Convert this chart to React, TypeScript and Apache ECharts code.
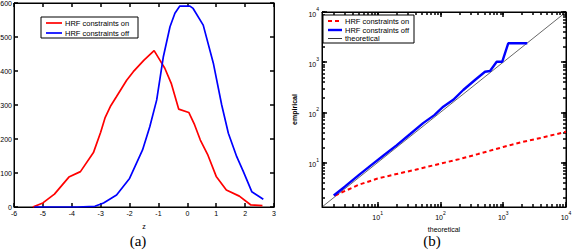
import React, { useEffect, useRef } from "react";
import * as echarts from "echarts";

// ---- Panel (a): histogram-like curves of z ----
const zTicks = [-6, -5, -4, -3, -2, -1, 0, 1, 2, 3];
const countTicks = [0, 100, 200, 300, 400, 500, 600];
const hrfOnZ = [-5.35, -5.0, -4.6, -4.1, -3.7, -3.25, -3.0, -2.85, -2.65, -2.45, -2.1, -1.87, -1.5, -1.15, -0.95, -0.78, -0.55, -0.3, 0.05, 0.25, 0.45, 0.7, 1.0, 1.35, 1.8, 2.2, 2.6];
const hrfOnCount = [0, 12, 38, 88, 104, 160, 220, 262, 298, 325, 373, 398, 432, 460, 432, 408, 362, 288, 278, 242, 197, 155, 90, 50, 32, 6, 4];
const hrfOffZ = [-5.3, -3.8, -3.2, -2.9, -2.45, -2.0, -1.55, -1.3, -1.06, -0.83, -0.6, -0.43, -0.26, 0.09, 0.2, 0.55, 0.9, 1.19, 1.42, 1.71, 1.94, 2.23, 2.63];
const hrfOffCount = [0, 0, 2, 12, 35, 84, 168, 236, 315, 442, 530, 570, 591, 591, 584, 535, 423, 300, 217, 148, 104, 45, 23];

// ---- Panel (b): quantile-quantile plot (log-log) ----
const logMajorTicks = [10, 100, 1000, 10000];
const logMinorTicks = [2, 3, 4, 5, 6, 7, 8, 9, 20, 30, 40, 50, 60, 70, 80, 90, 200, 300, 400, 500, 600, 700, 800, 900, 2000, 3000, 4000, 5000, 6000, 7000, 8000, 9000];
const qqOnTheo = [2.1, 3.2, 5, 10, 20, 40, 100, 200, 400, 1000, 2000, 4000, 10000];
const qqOnEmp = [2.2, 2.8, 3.6, 4.8, 5.9, 7.2, 9.5, 11.7, 14.8, 20.4, 25.7, 31, 41];
const qqOffTheo = [2.0, 3.0, 5.0, 8, 13, 20, 33, 53, 80, 111, 160, 231, 355, 513, 617, 787, 966, 1202, 2415];
const qqOffEmp = [2.2, 3.3, 5.6, 9, 14.5, 22, 37, 61, 88, 130, 178, 279, 442, 646, 668, 1023, 1023, 2377, 2377];
const theoLine = [1.3, 10000];

const zip = (a: number[], b: number[]) => a.map((v, i) => [v, b[i]]);

const SANS = "Liberation Sans, Arial, sans-serif";
const SERIF = "Liberation Serif, Times New Roman, serif";
const FS = 7;

function linAxis(grid: number, min: number, max: number, interval: number, position: string, labels: boolean, extra: any = {}) {
  return {
    type: "value",
    gridIndex: grid,
    min,
    max,
    interval,
    position,
    axisLine: { show: true, onZero: false, lineStyle: { color: "#000", width: 1 } },
    axisTick: { show: true, inside: true, length: 4, lineStyle: { color: "#000", width: 1.5 } },
    axisLabel: { show: labels, fontSize: FS, fontFamily: SANS, color: "#000", margin: 3 },
    splitLine: { show: false },
    ...extra,
  };
}

function logAxis(grid: number, position: string, major: boolean, labels: boolean, extra: any = {}) {
  return {
    type: "log",
    logBase: 10,
    gridIndex: grid,
    min: 1.3,
    max: 10000,
    position,
    axisLine: { show: major, onZero: false, lineStyle: { color: "#000", width: 1 } },
    axisTick: {
      show: true,
      inside: true,
      length: major ? 5 : 3,
      customValues: major ? logMajorTicks : logMinorTicks.concat(logMajorTicks),
      lineStyle: { color: "#000", width: 1.5 },
    },
    axisLabel: {
      show: labels,
      customValues: logMajorTicks,
      margin: 3,
      formatter: (v: number) => `{b|10}{s|${Math.round(Math.log10(v))}}`,
      rich: {
        b: { fontSize: FS, fontFamily: SANS, color: "#000", verticalAlign: "bottom", lineHeight: 11 },
        s: { fontSize: 5, fontFamily: SANS, color: "#000", verticalAlign: "top", lineHeight: 11 },
      },
    },
    splitLine: { show: false },
    minorTick: { show: false },
    ...extra,
  };
}

export default function App() {
  const ref = useRef<HTMLDivElement>(null);
  useEffect(() => {
    if (!ref.current) return;
    const chart = echarts.init(ref.current, undefined, { renderer: "svg" });
    const option: any = {
      animation: false,
      backgroundColor: "#fff",
      grid: [
        { left: 14, top: 3, width: 260, height: 204, show: true, borderColor: "#000", borderWidth: 1, containLabel: false, outerBoundsMode: "none" },
        { left: 322, top: 12, width: 244, height: 195, show: true, borderColor: "#000", borderWidth: 1, containLabel: false, outerBoundsMode: "none" },
      ],
      xAxis: [
        linAxis(0, zTicks[0], zTicks[zTicks.length - 1], 1, "bottom", true, {
          name: "z",
          nameLocation: "middle",
          nameGap: 16,
          nameTextStyle: { fontSize: FS, fontFamily: SANS, color: "#000" },
        }),
        linAxis(0, zTicks[0], zTicks[zTicks.length - 1], 1, "top", false),
        logAxis(1, "bottom", true, true, {
          name: "theoretical",
          nameLocation: "middle",
          nameGap: 15,
          nameTextStyle: { fontSize: FS, fontFamily: SANS, color: "#000" },
        }),
        logAxis(1, "bottom", false, false),
        logAxis(1, "top", true, false),
        logAxis(1, "top", false, false),
      ],
      yAxis: [
        linAxis(0, countTicks[0], countTicks[countTicks.length - 1], 100, "left", true, { axisLabel: { fontSize: FS, fontFamily: SANS, color: "#000", margin: 2 } }),
        linAxis(0, countTicks[0], countTicks[countTicks.length - 1], 100, "right", false),
        logAxis(1, "left", true, true, {
          name: "empirical",
          nameLocation: "middle",
          nameGap: 24,
          nameTextStyle: { fontSize: FS, fontFamily: SANS, color: "#000", fontWeight: "bold" },
        }),
        logAxis(1, "left", false, false),
        logAxis(1, "right", true, false),
        logAxis(1, "right", false, false),
      ],
      series: [
        {
          name: "HRF constraints on",
          type: "line",
          xAxisIndex: 0,
          yAxisIndex: 0,
          data: zip(hrfOnZ, hrfOnCount),
          showSymbol: false,
          lineStyle: { color: "#ff0000", width: 1.7 },
        },
        {
          name: "HRF constraints off",
          type: "line",
          xAxisIndex: 0,
          yAxisIndex: 0,
          data: zip(hrfOffZ, hrfOffCount),
          showSymbol: false,
          lineStyle: { color: "#0000ff", width: 1.7 },
        },
        {
          name: "theoretical",
          type: "line",
          xAxisIndex: 2,
          yAxisIndex: 2,
          data: zip(theoLine, theoLine),
          showSymbol: false,
          lineStyle: { color: "#000", width: 0.6 },
        },
        {
          name: "HRF constraints on ",
          type: "line",
          xAxisIndex: 2,
          yAxisIndex: 2,
          data: zip(qqOnTheo, qqOnEmp),
          showSymbol: false,
          lineStyle: { color: "#ff0000", width: 2, type: [4, 3] },
        },
        {
          name: "HRF constraints off ",
          type: "line",
          xAxisIndex: 2,
          yAxisIndex: 2,
          data: zip(qqOffTheo, qqOffEmp),
          showSymbol: false,
          lineStyle: { color: "#0000ff", width: 2.4 },
        },
      ],
      graphic: [
        // legend (a)
        { type: "rect", shape: { x: 41, y: 17, width: 97, height: 21 }, style: { fill: "#fff", stroke: "#000", lineWidth: 1 }, z: 10 },
        { type: "line", shape: { x1: 46, y1: 23, x2: 62, y2: 23 }, style: { stroke: "#ff0000", lineWidth: 1.7 }, z: 11 },
        { type: "text", x: 65, y: 23, style: { text: "HRF constraints on", fontSize: 7.5, fontFamily: SANS, fill: "#000", verticalAlign: "middle" }, z: 11 },
        { type: "line", shape: { x1: 46, y1: 33, x2: 62, y2: 33 }, style: { stroke: "#0000ff", lineWidth: 1.7 }, z: 11 },
        { type: "text", x: 65, y: 33, style: { text: "HRF constraints off", fontSize: 7.5, fontFamily: SANS, fill: "#000", verticalAlign: "middle" }, z: 11 },
        // legend (b)
        { type: "rect", shape: { x: 323, y: 15, width: 91, height: 28 }, style: { fill: "#fff", stroke: "#000", lineWidth: 1 }, z: 10 },
        { type: "line", shape: { x1: 328, y1: 21, x2: 342, y2: 21 }, style: { stroke: "#ff0000", lineWidth: 2, lineDash: [4, 3] }, z: 11 },
        { type: "text", x: 345, y: 21, style: { text: "HRF constraints on", fontSize: 7.5, fontFamily: SANS, fill: "#000", verticalAlign: "middle" }, z: 11 },
        { type: "line", shape: { x1: 328, y1: 30, x2: 342, y2: 30 }, style: { stroke: "#0000ff", lineWidth: 2.4 }, z: 11 },
        { type: "text", x: 345, y: 30, style: { text: "HRF constraints off", fontSize: 7.5, fontFamily: SANS, fill: "#000", verticalAlign: "middle" }, z: 11 },
        { type: "line", shape: { x1: 328, y1: 38.5, x2: 342, y2: 38.5 }, style: { stroke: "#000", lineWidth: 0.8 }, z: 11 },
        { type: "text", x: 345, y: 38.5, style: { text: "theoretical", fontSize: 7.5, fontFamily: SANS, fill: "#000", verticalAlign: "middle" }, z: 11 },
        // panel captions
        { type: "text", x: 138, y: 241, style: { text: "(a)", fontSize: 15, fontFamily: SERIF, fill: "#000", align: "center", verticalAlign: "middle" } },
        { type: "text", x: 432, y: 241, style: { text: "(b)", fontSize: 15, fontFamily: SERIF, fill: "#000", align: "center", verticalAlign: "middle" } },
      ],
    };
    chart.setOption(option);
    return () => chart.dispose();
  }, []);
  return <div ref={ref} style={{ position: "absolute", left: 0, top: 0, width: 573, height: 250 }} />;
}
